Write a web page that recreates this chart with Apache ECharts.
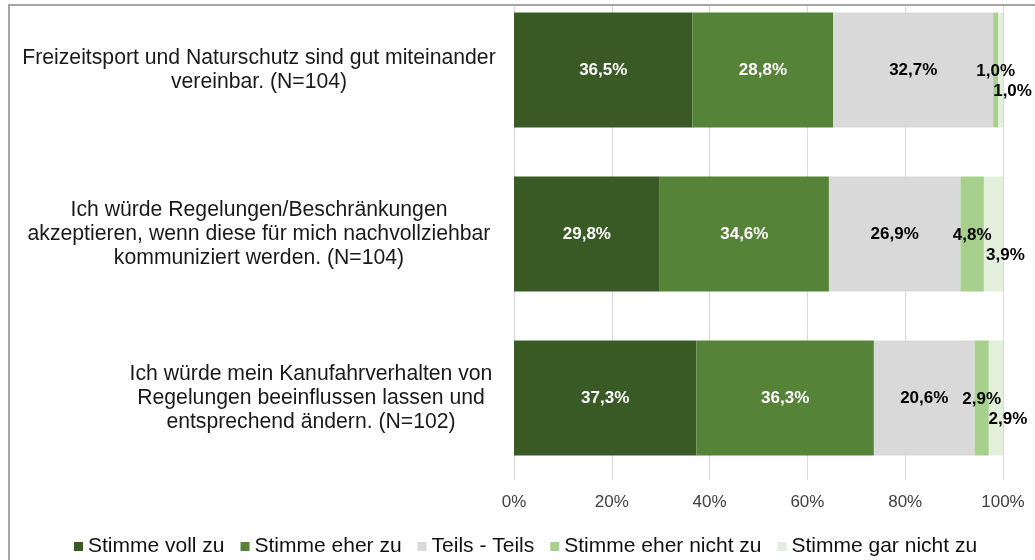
<!DOCTYPE html>
<html><head><meta charset="utf-8">
<script src="https://cdn.jsdelivr.net/npm/echarts@6/dist/echarts.min.js"></script>
<style>
body{margin:0;background:#fff;overflow:hidden;width:1035px;height:560px}
#c{position:absolute;left:0;top:-12px;width:1035px;height:572px}
#mask{position:absolute;left:0;top:0;width:1035px;height:5px;background:#fff}
#frame{position:absolute;left:8px;top:4px;width:1200px;height:800px;border-left:2px solid #a6a6a6;border-top:2px solid #a6a6a6;pointer-events:none}
</style></head><body>
<div id="c"></div><div id="mask"></div><div id="frame"></div>
<script>
const categories = [
  'Freizeitsport und Naturschutz sind gut miteinander\nvereinbar. (N=104)',
  'Ich würde Regelungen/Beschränkungen\nakzeptieren, wenn diese für mich nachvollziehbar\nkommuniziert werden. (N=104)',
  'Ich würde mein Kanufahrverhalten von\nRegelungen beeinflussen lassen und\nentsprechend ändern. (N=102)'
];
const seriesNames = ['Stimme voll zu', 'Stimme eher zu', 'Teils - Teils', 'Stimme eher nicht zu', 'Stimme gar nicht zu'];
const vollZu      = [36.5, 29.8, 37.3];
const eherZu      = [28.8, 34.6, 36.3];
const teilsTeils  = [32.7, 26.9, 20.6];
const eherNichtZu = [1.0, 4.8, 2.9];
const garNichtZu  = [1.0, 3.9, 2.9];
const tickValues  = [0, 20, 40, 60, 80, 100];

const colors = ['#3a5a25', '#558337', '#d9d9d9', '#a8d08d', '#e2efda'];
const labelColors = ['#ffffff', '#ffffff', '#000000', '#000000', '#000000'];
const labelOffsets = [[0,0],[0,0],[0,0],[0,1],[12,21]];
const values = [vollZu, eherZu, teilsTeils, eherNichtZu, garNichtZu];
const fmt = v => v.toFixed(1).replace('.', ',') + '%';
const FONT = 'Liberation Sans, Arial, sans-serif';
const CAT_FS = 21.2;

const chart = echarts.init(document.getElementById('c'), null, {renderer: 'canvas'});
chart.setOption({
  animation: false,
  backgroundColor: '#fff',
  color: colors,
  grid: {left: 514, right: 32, top: 0, bottom: 80, containLabel: false},
  legend: {
    data: seriesNames,
    top: 543, left: 69,
    itemWidth: 9, itemHeight: 9, itemGap: 16,
    icon: 'rect',
    textStyle: {fontFamily: FONT, fontSize: 21, color: '#111111'}
  },
  xAxis: {
    type: 'value', min: 0, max: 100, interval: 20,
    axisLine: {show: false}, axisTick: {show: false},
    splitLine: {show: true, lineStyle: {color: '#d9d9d9', width: 1}},
    axisLabel: {
      margin: 14, fontFamily: FONT, fontSize: 17, color: '#404040',
      formatter: v => tickValues.includes(v) ? v + '%' : ''
    }
  },
  yAxis: {
    type: 'category', data: categories, inverse: true,
    axisLine: {show: false}, axisTick: {show: false},
    axisLabel: {
      margin: 255, align: 'center', fontFamily: FONT, fontSize: CAT_FS, color: '#1a1a1a', lineHeight: 24,
      formatter: (val, idx) => {
        const key = idx === 2 ? 'p' : 'n';
        return val.split('\n').map(l => '{' + key + '|' + l + '}').join('\n');
      },
      rich: {
        n: {fontFamily: FONT, fontSize: CAT_FS, color: '#1a1a1a', lineHeight: 24},
        p: {fontFamily: FONT, fontSize: CAT_FS, color: '#1a1a1a', lineHeight: 24, padding: [0, 0, 0, 104]}
      }
    }
  },
  series: seriesNames.map((name, i) => ({
    name, type: 'bar', stack: 'total', barWidth: '70%',
    data: values[i],
    itemStyle: {color: colors[i]},
    label: {
      show: true, position: 'inside', offset: labelOffsets[i],
      formatter: p => fmt(p.value),
      fontFamily: FONT, fontSize: 17, fontWeight: 'bold', color: labelColors[i]
    }
  }))
});
</script>
</body></html>
